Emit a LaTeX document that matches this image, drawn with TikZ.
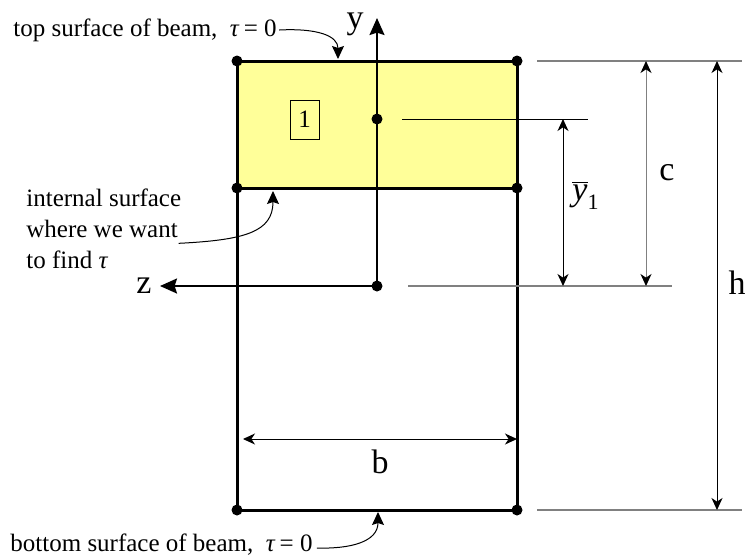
\documentclass[tikz,border=0pt]{standalone}
\usepackage{fontspec}
\setmainfont{Liberation Serif}
\usetikzlibrary{arrows.meta,positioning,calc}
\definecolor{secYellow}{RGB}{255,255,153}
\definecolor{dimGray}{RGB}{128,128,128}

\begin{document}
\begin{tikzpicture}[
    x=0.5pt, y=-0.5pt,
    dot/.style={circle, fill=black, inner sep=0pt, minimum size=5.5pt},
    edge/.style={line width=1.5pt},
    axis/.style={-{Stealth[length=8.5pt,width=7.5pt,inset=1.2pt]}, line width=1pt},
    dim/.style={{Stealth[length=6pt,width=5.5pt,inset=1.8pt,black]}-{Stealth[length=6pt,width=5.5pt,inset=1.8pt,black]}, line width=0.5pt},
    ext/.style={draw=dimGray, line width=0.8pt},
    note/.style={font=\fontsize{12.5}{15.5}\selectfont, align=left, inner sep=0pt},
    lbl/.style={font=\fontsize{17}{20}\selectfont, inner sep=0pt},
    pointer/.style={-{Stealth[length=6.5pt,width=6pt,inset=1pt]}, line width=0.5pt}
]
\useasboundingbox (0,0) rectangle (745,559);

% corners of the section and the two reference points
\coordinate (tl) at (237,61);
\coordinate (tr) at (517,61);
\coordinate (ml) at (237,188);
\coordinate (mr) at (517,188);
\coordinate (bl) at (237,510);
\coordinate (br) at (517,510);
\coordinate (cen) at (377,119);
\coordinate (org) at (377,286);
\coordinate (yend) at (377,18);
\coordinate (zend) at (160,286);

% area 1 and outline
\fill[secYellow] (tl) rectangle (mr);
\draw[edge] (tl) -- (tr) -- (br) -- (bl) -- cycle;
\draw[edge] (ml) -- (mr);
\node[draw, line width=0.5pt, minimum width=14.5pt, minimum height=19.5pt, inner sep=0pt,
      font=\fontsize{12.5}{15}\selectfont] (area1) at (304.5,119.5) {1};

% axes
\draw[axis] (org) -- (yend);
\draw[axis] (org) -- (zend);
\node[lbl] (ylab) at (355,24) {y};
\node[lbl] (zlab) at (144,286) {z};

\foreach \p in {tl,tr,ml,mr,bl,br,cen,org}
    \node[dot] (dot-\p) at (\p) {};

% extension lines
\draw[ext] ($(tr)+(20,0)$) coordinate (e1) -- ++(205,0) coordinate (e1r);
\draw[ext] ($(br)+(20,0)$) coordinate (e4) -- ++(205,0) coordinate (e4r);
\draw[line width=0.5pt] ($(cen)+(25,0)$) coordinate (e2) -- ++(186,0) coordinate (e2r);
\draw[ext] ($(org)+(31,0)$) coordinate (e3) -- ++(264,0) coordinate (e3r);

% dimensions
\coordinate (ytop) at (563,119);
\coordinate (ybot) at (563,286);
\coordinate (ctop) at (646,61);
\coordinate (cbot) at (646,286);
\coordinate (htop) at (717,61);
\coordinate (hbot) at (717,510);
\coordinate (bleft) at (243,439);
\coordinate (bright) at (517,439);
\draw[dim] (ytop) -- (ybot);
\draw[dim, draw=dimGray] (ctop) -- (cbot);
\draw[dim] (htop) -- (hbot);
\draw[dim] (bleft) -- (bright);
\node[lbl] (ybarlab) at (586,195) {$\overline{\mbox{\textit{y}}}_{\mbox{\fontsize{11}{12}\selectfont 1}}$};
\node[lbl] (clab) at (667,173) {c};
\node[lbl] (hlab) at (737,283) {h};
\node[lbl] (blab) at (380,462) {b};

% notes
\node[note, anchor=west] (topnote) at (13,30) {top surface of beam,\ \ \textit{τ}\,= 0};
\node[note, anchor=north west] (intnote) at (26,188) {internal surface\\where we want\\to find \textit{τ}};
\node[note, anchor=west] (botnote) at (10,545) {bottom surface of beam,\ \ \textit{τ}\,= 0};

\draw[pointer] ($(topnote.east)+(2,0)$) .. controls (318,28) and (338,36) .. (338,59);
\draw[pointer] ($(intnote.east)+(-3,15)$) .. controls (245,240) and (273,232) .. (273,191);
\draw[pointer] ($(botnote.east)+(4,3)$) .. controls (350,549) and (378,542) .. (378,512);
\end{tikzpicture}
\end{document}
